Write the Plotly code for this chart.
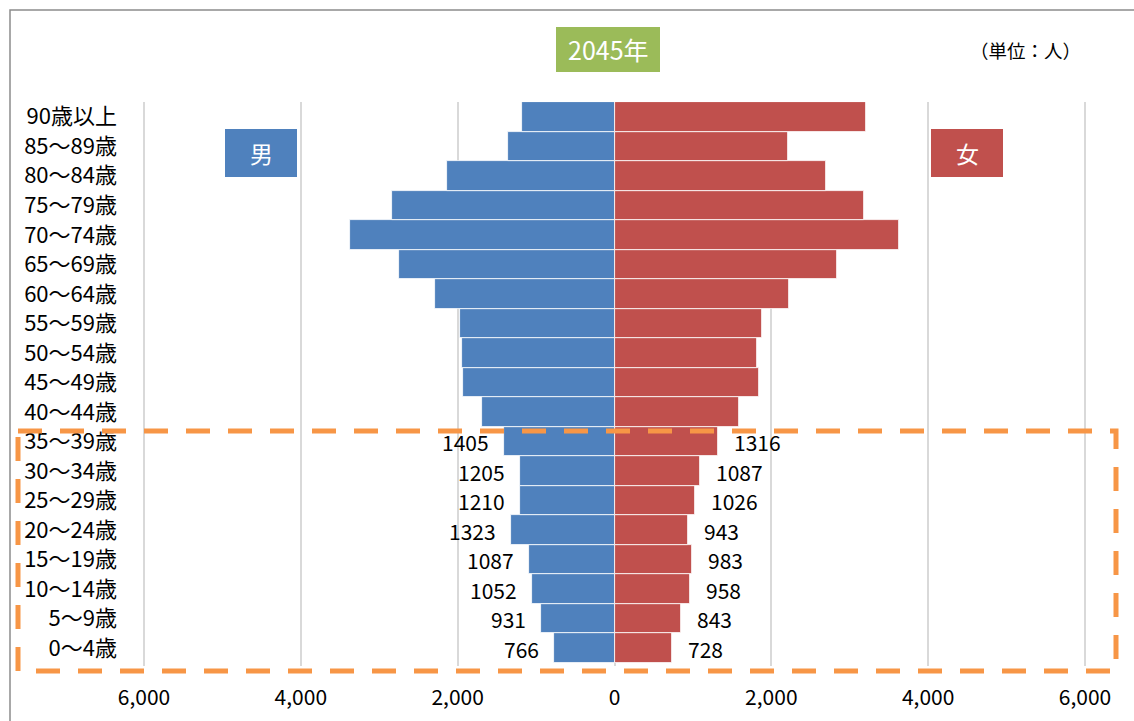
import plotly.graph_objects as go

# Age groups, youngest first (bottom of the pyramid)
ages = ["0～4歳", "5～9歳", "10～14歳", "15～19歳", "20～24歳", "25～29歳",
        "30～34歳", "35～39歳", "40～44歳", "45～49歳", "50～54歳", "55～59歳",
        "60～64歳", "65～69歳", "70～74歳", "75～79歳", "80～84歳", "85～89歳",
        "90歳以上"]

male = [766, 931, 1052, 1087, 1323, 1210, 1205, 1405, 1692, 1938, 1942, 1972,
        2291, 2745, 3370, 2839, 2138, 1355, 1177]
female = [728, 843, 958, 983, 943, 1026, 1087, 1316, 1588, 1844, 1822, 1883,
          2221, 2837, 3623, 3180, 2703, 2213, 3202]

# Only the under-40 groups carry value labels
labelled = 8

tick_vals = [-6000, -4000, -2000, 0, 2000, 4000, 6000]
tick_text = ["6,000", "4,000", "2,000", "0", "2,000", "4,000", "6,000"]

BLUE = "#4F81BD"
RED = "#C0504D"
GREEN = "#9BBB59"
ORANGE = "#F79646"
GRID = "#D9D9D9"
FONT = "Noto Sans CJK JP"

W, H = 1134, 721
ML, MR, MT, MB = 142, 47, 102, 55
PW, PH = W - ML - MR, H - MT - MB
# +-6000 sit 2 px inside the plot edges so their gridlines are drawn
HALF = 6000 * PW / (PW - 4)


def px_x(px):
    return (px - ML) / PW


def px_y(py):
    return (H - MB - py) / PH


fig = go.Figure()
fig.add_trace(go.Bar(
    y=ages, x=[-v for v in male], orientation="h", name="男",
    marker=dict(color=BLUE, line=dict(color="white", width=0.8)),
    hoverinfo="skip",
))
fig.add_trace(go.Bar(
    y=ages, x=female, orientation="h", name="女",
    marker=dict(color=RED, line=dict(color="white", width=0.8)),
    hoverinfo="skip",
))

annotations = []
for i in range(labelled):
    annotations.append(dict(
        x=-male[i], y=ages[i], xref="x", yref="y", text=str(male[i]),
        showarrow=False, xanchor="right", yanchor="middle", xshift=-13,
        yshift=-1, font=dict(family=FONT, size=21, color="black"),
    ))
    annotations.append(dict(
        x=female[i], y=ages[i], xref="x", yref="y", text=str(female[i]),
        showarrow=False, xanchor="left", yanchor="middle", xshift=14,
        yshift=-1, font=dict(family=FONT, size=21, color="black"),
    ))

shapes = [
    # chart frame
    dict(type="rect", xref="paper", yref="paper",
         x0=px_x(10), x1=px_x(1145), y0=px_y(10), y1=px_y(735),
         line=dict(color="#8C8C8C", width=1.5), fillcolor="rgba(0,0,0,0)",
         layer="below"),
    # title box
    dict(type="rect", xref="paper", yref="paper",
         x0=px_x(556), x1=px_x(660), y0=px_y(27), y1=px_y(72),
         line=dict(width=0), fillcolor=GREEN),
    # sex boxes
    dict(type="rect", xref="paper", yref="paper",
         x0=px_x(225), x1=px_x(297), y0=px_y(129), y1=px_y(177),
         line=dict(width=0), fillcolor=BLUE),
    dict(type="rect", xref="paper", yref="paper",
         x0=px_x(931), x1=px_x(1003), y0=px_y(129), y1=px_y(177),
         line=dict(width=0), fillcolor=RED),
    # dashed highlight around the under-40 groups
    dict(type="rect", xref="paper", yref="paper",
         x0=px_x(18), x1=px_x(1116), y0=px_y(431), y1=px_y(671),
         line=dict(color=ORANGE, width=5, dash="24px,18px"),
         fillcolor="rgba(0,0,0,0)"),
]

annotations += [
    dict(x=px_x(608), y=px_y(49.5), xref="paper", yref="paper", text="2045年",
         showarrow=False, xanchor="center", yanchor="middle",
         font=dict(family=FONT, size=25, color="white")),
    dict(x=px_x(1025), y=px_y(50), xref="paper", yref="paper", text="（単位：人）",
         showarrow=False, xanchor="center", yanchor="middle",
         font=dict(family=FONT, size=18.5, color="black")),
    dict(x=px_x(261), y=px_y(153), xref="paper", yref="paper", text="男",
         showarrow=False, xanchor="center", yanchor="middle",
         font=dict(family=FONT, size=23, color="white")),
    dict(x=px_x(967), y=px_y(153), xref="paper", yref="paper", text="女",
         showarrow=False, xanchor="center", yanchor="middle",
         font=dict(family=FONT, size=23, color="white")),
]

fig.update_layout(
    width=W, height=H,
    margin=dict(l=ML, r=MR, t=MT, b=MB, pad=0, autoexpand=False),
    paper_bgcolor="white", plot_bgcolor="white",
    barmode="overlay", bargap=0,
    showlegend=False,
    shapes=shapes,
    annotations=annotations,
    font=dict(family=FONT, color="black"),
)
fig.update_xaxes(
    range=[-HALF, HALF], tickvals=tick_vals, ticktext=tick_text,
    showgrid=True, gridcolor=GRID, gridwidth=1.5, zeroline=False,
    showline=False, ticks="", ticklabelstandoff=17, automargin=False,
    tickfont=dict(family=FONT, size=21, color="black"), fixedrange=True,
)
fig.update_yaxes(
    categoryorder="array", categoryarray=ages,
    showgrid=False, zeroline=False, showline=False, ticks="",
    ticklabelstandoff=24, automargin=False,
    tickfont=dict(family=FONT, size=22, color="black"), fixedrange=True,
)

fig.write_html("out.html")
